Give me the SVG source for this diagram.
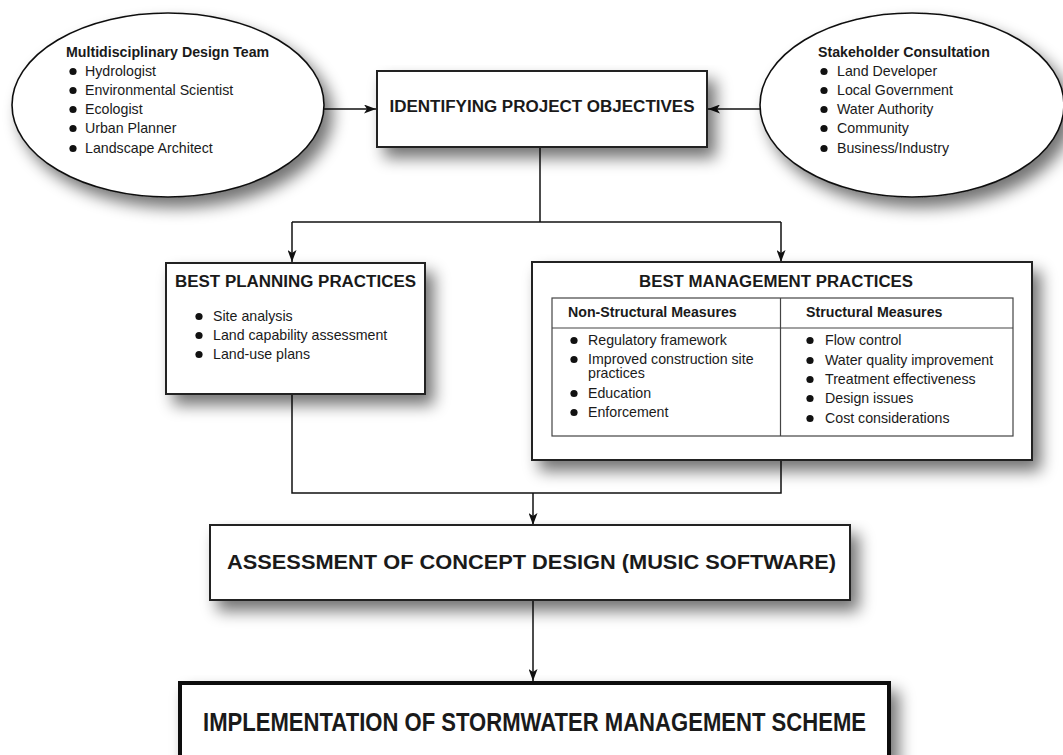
<svg xmlns="http://www.w3.org/2000/svg" width="1063" height="755" viewBox="0 0 1063 755">
<defs>
<filter id="sh" x="-20%" y="-20%" width="150%" height="160%">
<feGaussianBlur in="SourceAlpha" stdDeviation="8"/>
<feOffset dx="8" dy="10" result="b"/>
<feComponentTransfer><feFuncA type="linear" slope="0.55"/></feComponentTransfer>
<feMerge><feMergeNode/><feMergeNode in="SourceGraphic"/></feMerge>
</filter>
<marker id="ar" viewBox="0 0 12 9" refX="12" refY="4.5" markerWidth="12" markerHeight="9" markerUnits="userSpaceOnUse" orient="auto">
<path d="M0,0 L12,4.5 L0,9 L3,4.5 Z" fill="#111"/>
</marker>
<style>
.t{font-family:"Liberation Sans",Arial,sans-serif;fill:#1a1a1a}
.b{font-weight:bold}
.s{font-size:14.2px}
.node{fill:#fff;stroke:#222;stroke-width:2}
.ell{fill:#fff;stroke:#111;stroke-width:1.6}
.con{fill:none;stroke:#111;stroke-width:1.5}
.dot{fill:#111}
.tbl{fill:none;stroke:#444;stroke-width:1.2}
</style>
</defs>
<rect width="1063" height="755" fill="#fff"/>

<g id="connectors">
<line class="con" x1="323" y1="109" x2="376" y2="109" marker-end="url(#ar)"/>
<line class="con" x1="760" y1="109" x2="708" y2="109" marker-end="url(#ar)"/>
<polyline class="con" points="540,147 540,222"/>
<polyline class="con" points="292,222 781,222"/>
<line class="con" x1="292" y1="222" x2="292" y2="262" marker-end="url(#ar)"/>
<line class="con" x1="781" y1="222" x2="781" y2="262" marker-end="url(#ar)"/>
<polyline class="con" points="292,394 292,493 781,493 781,460"/>
<line class="con" x1="533" y1="493" x2="533" y2="525" marker-end="url(#ar)"/>
<line class="con" x1="533" y1="600" x2="533" y2="681" marker-end="url(#ar)"/>
</g>

<g id="design-team">
<ellipse class="ell" cx="168" cy="105" rx="156" ry="92" filter="url(#sh)"/>
<text class="t b s" x="66" y="57">Multidisciplinary Design Team</text>
<g class="dot"><circle cx="73" cy="71.5" r="3.6"/><circle cx="73" cy="90.5" r="3.6"/><circle cx="73" cy="109.5" r="3.6"/><circle cx="73" cy="128.5" r="3.6"/><circle cx="73" cy="148.5" r="3.6"/></g>
<text class="t s" x="85" y="76">Hydrologist</text>
<text class="t s" x="85" y="95">Environmental Scientist</text>
<text class="t s" x="85" y="114">Ecologist</text>
<text class="t s" x="85" y="133">Urban Planner</text>
<text class="t s" x="85" y="153">Landscape Architect</text>
</g>

<g id="stakeholders">
<ellipse class="ell" cx="912" cy="105" rx="152" ry="92" filter="url(#sh)"/>
<text class="t b s" x="818" y="57">Stakeholder Consultation</text>
<g class="dot"><circle cx="824" cy="71.5" r="3.6"/><circle cx="824" cy="90.5" r="3.6"/><circle cx="824" cy="109.5" r="3.6"/><circle cx="824" cy="128.5" r="3.6"/><circle cx="824" cy="148.5" r="3.6"/></g>
<text class="t s" x="837" y="76">Land Developer</text>
<text class="t s" x="837" y="95">Local Government</text>
<text class="t s" x="837" y="114">Water Authority</text>
<text class="t s" x="837" y="133">Community</text>
<text class="t s" x="837" y="153">Business/Industry</text>
</g>

<g id="objectives">
<rect class="node" x="377" y="71" width="330" height="76" filter="url(#sh)"/>
<text class="t b" x="542" y="112" font-size="16" text-anchor="middle" textLength="305" lengthAdjust="spacingAndGlyphs">IDENTIFYING PROJECT OBJECTIVES</text>
</g>

<g id="planning">
<rect class="node" x="166" y="263" width="259" height="131" filter="url(#sh)"/>
<text class="t b" x="295.5" y="287" font-size="16" text-anchor="middle" textLength="241" lengthAdjust="spacingAndGlyphs">BEST PLANNING PRACTICES</text>
<g class="dot"><circle cx="199" cy="316.5" r="3.6"/><circle cx="199" cy="335.5" r="3.6"/><circle cx="199" cy="354.5" r="3.6"/></g>
<text class="t s" x="213" y="321">Site analysis</text>
<text class="t s" x="213" y="340">Land capability assessment</text>
<text class="t s" x="213" y="359">Land-use plans</text>
</g>

<g id="management">
<rect class="node" x="532" y="262" width="500" height="198" filter="url(#sh)"/>
<text class="t b" x="776" y="287" font-size="16" text-anchor="middle" textLength="274" lengthAdjust="spacingAndGlyphs">BEST MANAGEMENT PRACTICES</text>
<rect class="tbl" x="552" y="298" width="461" height="138"/>
<line class="tbl" x1="552" y1="328" x2="1013" y2="328"/>
<line class="tbl" x1="780.5" y1="298" x2="780.5" y2="436"/>
<text class="t b s" x="568" y="317">Non-Structural Measures</text>
<text class="t b s" x="806" y="317">Structural Measures</text>
<g class="dot"><circle cx="574" cy="340.5" r="3.6"/><circle cx="574" cy="359.5" r="3.6"/><circle cx="574" cy="393.5" r="3.6"/><circle cx="574" cy="412.5" r="3.6"/>
<circle cx="810" cy="340.5" r="3.6"/><circle cx="810" cy="360.5" r="3.6"/><circle cx="810" cy="379.5" r="3.6"/><circle cx="810" cy="398.5" r="3.6"/><circle cx="810" cy="418.5" r="3.6"/></g>
<text class="t s" x="588" y="345">Regulatory framework</text>
<text class="t s" x="588" y="364">Improved construction site</text>
<text class="t s" x="588" y="378">practices</text>
<text class="t s" x="588" y="398">Education</text>
<text class="t s" x="588" y="417">Enforcement</text>
<text class="t s" x="825" y="345">Flow control</text>
<text class="t s" x="825" y="365">Water quality improvement</text>
<text class="t s" x="825" y="384">Treatment effectiveness</text>
<text class="t s" x="825" y="403">Design issues</text>
<text class="t s" x="825" y="423">Cost considerations</text>
</g>

<g id="assessment">
<rect class="node" x="210" y="525" width="640" height="75" filter="url(#sh)"/>
<text class="t b" x="531.5" y="569" font-size="21" text-anchor="middle" textLength="609" lengthAdjust="spacingAndGlyphs">ASSESSMENT OF CONCEPT DESIGN (MUSIC SOFTWARE)</text>
</g>

<g id="implementation">
<rect x="180" y="683" width="709" height="90" fill="#fff" stroke="#111" stroke-width="4" filter="url(#sh)"/>
<text class="t b" x="534.5" y="731" font-size="26" text-anchor="middle" textLength="663" lengthAdjust="spacingAndGlyphs">IMPLEMENTATION OF STORMWATER MANAGEMENT SCHEME</text>
</g>
</svg>
